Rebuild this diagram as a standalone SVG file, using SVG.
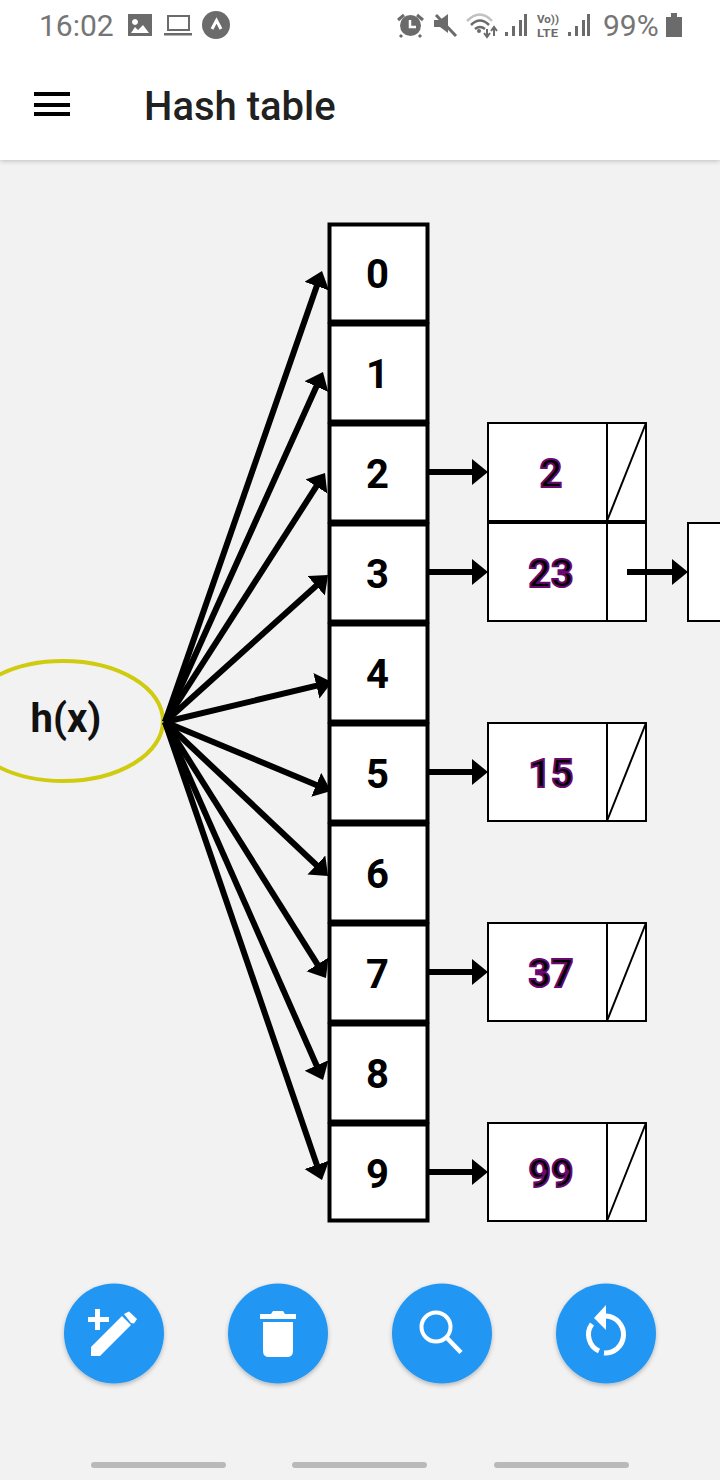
<svg xmlns="http://www.w3.org/2000/svg" width="720" height="1480" viewBox="0 0 720 1480">
<style>
text{font-family:Roboto,"Liberation Sans",sans-serif}
.cell{fill:#fff;stroke:#000;stroke-width:4}
.idx{font-size:40px;font-weight:700;fill:#000;text-anchor:middle}
.box{fill:#fff;stroke:#000;stroke-width:2}
.div{stroke:#000;stroke-width:2}
.val{font-size:39px;font-weight:700;fill:#000;stroke:#6a0a70;stroke-width:2;text-anchor:middle}
.arrow{stroke:#000;stroke-width:6;fill:none;marker-end:url(#ah)}
.sb{fill:#6b6b6b}
.st{font-size:30px;fill:#757575}
.fab{fill:#2196f3;filter:url(#sh)}
.ic{fill:#fff}
.pill{fill:#b9b9b9}
</style>
<defs>
<marker id="ah" markerUnits="userSpaceOnUse" markerWidth="18" markerHeight="28" refX="8" refY="13" orient="auto"><path d="M0,0L16,13L0,26Z" fill="#000"/></marker>
<filter id="sh" x="-20%" y="-20%" width="140%" height="140%"><feDropShadow dx="0" dy="2" stdDeviation="2" flood-color="#000" flood-opacity="0.25"/></filter>
<filter id="bar" x="-5%" y="-5%" width="110%" height="120%"><feDropShadow dx="0" dy="1" stdDeviation="2.5" flood-color="#000" flood-opacity="0.22"/></filter>
</defs>
<rect width="720" height="1480" fill="#f2f2f2"/>
<g id="appbar">
<rect width="720" height="160" fill="#fff" filter="url(#bar)"/>
<rect x="34" y="92" width="36" height="4"/><rect x="34" y="103" width="36" height="4"/><rect x="34" y="112" width="36" height="4"/>
<text x="144" y="120" font-size="40" font-weight="500" fill="#212121">Hash table</text>
</g>
<g id="statusbar">
<text class="st" x="39" y="36">16:02</text>
<path class="sb" fill-rule="evenodd" d="M128,14H152V36H128ZM131,33H149L143,25L138,30L135,27ZM135,19a3,3 0 1,0 .01,0Z"/>
<path class="sb" fill-rule="evenodd" d="M167,15H190V31H167ZM169,17V29H188V17Z"/>
<rect class="sb" x="164" y="33" width="28" height="2.5"/>
<circle class="sb" cx="216" cy="25" r="14"/>
<path d="M212,29L216.500,20.500L221,29" fill="none" stroke="#fff" stroke-width="3"/>
<circle class="sb" cx="410.500" cy="25.500" r="10.500"/>
<path d="M410,20V27H416" stroke="#fff" stroke-width="2.5" fill="none"/>
<path d="M398,20L404,15M423,20L417,15M402,35L400,37M419,35L421,37" stroke="#6b6b6b" stroke-width="3"/>
<path class="sb" d="M434,20H440L448,14V33L440,27H434Z"/>
<path d="M436,15L456,36" stroke="#6b6b6b" stroke-width="3"/>
<path d="M467,21Q480,8 492,21" stroke="#c2c2c2" stroke-width="2.5" fill="none"/>
<path d="M471,25Q480,16 489,25M475,29Q480,25 485,29" stroke="#6b6b6b" stroke-width="2.5" fill="none"/>
<circle class="sb" cx="479" cy="31" r="2"/>
<path d="M487,29V36M484,33L487,37L490,33M494,36V28M491,31L494,27L497,31" stroke="#6b6b6b" stroke-width="2" fill="none"/>
<path class="sb" d="M505,32h3v4h-3ZM512,26h3v10h-3ZM519,20h3v16h-3ZM524,14h3v22h-3Z"/>
<text x="537" y="23" font-size="11" font-weight="700" fill="#6b6b6b" textLength="22" lengthAdjust="spacingAndGlyphs">Vo))</text>
<text x="537" y="36.500" font-size="11" font-weight="700" fill="#6b6b6b" textLength="21" lengthAdjust="spacingAndGlyphs">LTE</text>
<path class="sb" d="M568,32h3v4h-3ZM575,26h3v10h-3ZM582,20h3v16h-3ZM587,14h3v22h-3Z"/>
<text class="st" x="603" y="36">99%</text>
<path class="sb" d="M666,17H671V13H677V17H682V37H666Z"/>
</g>
<g id="hash-fn">
<ellipse cx="63" cy="721" rx="100" ry="60" fill="none" stroke="#cfcb0e" stroke-width="4"/>
<text x="66" y="732" font-size="40" font-weight="700" fill="#111" text-anchor="middle">h(x)</text>
</g>
<g id="connectors">
<line class="arrow" x1="165" y1="722" x2="319.400" y2="278.600"/>
<line class="arrow" x1="165" y1="722" x2="319.700" y2="379.300"/>
<line class="arrow" x1="165" y1="722" x2="320.700" y2="479.700"/>
<line class="arrow" x1="165" y1="722" x2="322.100" y2="580.400"/>
<line class="arrow" x1="165" y1="722" x2="324.200" y2="683.900"/>
<line class="arrow" x1="165" y1="722" x2="323.600" y2="787.900"/>
<line class="arrow" x1="165" y1="722" x2="322.200" y2="870.500"/>
<line class="arrow" x1="165" y1="722" x2="321.700" y2="971.200"/>
<line class="arrow" x1="165" y1="722" x2="319.800" y2="1072.700"/>
<line class="arrow" x1="165" y1="722" x2="319.400" y2="1172.400"/>
<line class="arrow" x1="428" y1="472" x2="480" y2="472"/>
<line class="arrow" x1="428" y1="572" x2="480" y2="572"/>
<line class="arrow" x1="428" y1="772" x2="480" y2="772"/>
<line class="arrow" x1="428" y1="972" x2="480" y2="972"/>
<line class="arrow" x1="428" y1="1172" x2="480" y2="1172"/>
</g>
<g id="cell-0"><rect class="cell" x="329.500" y="224.500" width="98" height="97"/><text class="idx" x="377.500" y="288">0</text></g>
<g id="cell-1"><rect class="cell" x="329.500" y="324.500" width="98" height="97"/><text class="idx" x="377.500" y="388">1</text></g>
<g id="cell-2"><rect class="cell" x="329.500" y="424.500" width="98" height="97"/><text class="idx" x="377.500" y="488">2</text></g>
<g id="cell-3"><rect class="cell" x="329.500" y="524.500" width="98" height="97"/><text class="idx" x="377.500" y="588">3</text></g>
<g id="cell-4"><rect class="cell" x="329.500" y="624.500" width="98" height="97"/><text class="idx" x="377.500" y="688">4</text></g>
<g id="cell-5"><rect class="cell" x="329.500" y="724.500" width="98" height="97"/><text class="idx" x="377.500" y="788">5</text></g>
<g id="cell-6"><rect class="cell" x="329.500" y="824.500" width="98" height="97"/><text class="idx" x="377.500" y="888">6</text></g>
<g id="cell-7"><rect class="cell" x="329.500" y="924.500" width="98" height="97"/><text class="idx" x="377.500" y="988">7</text></g>
<g id="cell-8"><rect class="cell" x="329.500" y="1024.500" width="98" height="97"/><text class="idx" x="377.500" y="1088">8</text></g>
<g id="cell-9"><rect class="cell" x="329.500" y="1124.500" width="98" height="96"/><text class="idx" x="377.500" y="1188">9</text></g>
<g id="node-2"><rect class="box" x="488" y="423" width="158" height="98"/><line class="div" x1="607" y1="423" x2="607" y2="521"/><line class="div" x1="607" y1="521" x2="646" y2="423"/><text class="val" x="551" y="487">2</text></g>
<g id="node-23"><rect class="box" x="488" y="523" width="158" height="98"/><line class="div" x1="607" y1="523" x2="607" y2="621"/><line x1="488" y1="522" x2="646" y2="522" stroke="#000" stroke-width="4"/><text class="val" x="551" y="587">23</text></g>
<g id="node-next"><rect class="box" x="688" y="523" width="40" height="98"/></g>
<line class="arrow" x1="627" y1="572" x2="680" y2="572"/>
<g id="node-15"><rect class="box" x="488" y="723" width="158" height="98"/><line class="div" x1="607" y1="723" x2="607" y2="821"/><line class="div" x1="607" y1="821" x2="646" y2="723"/><text class="val" x="551" y="787">15</text></g>
<g id="node-37"><rect class="box" x="488" y="923" width="158" height="98"/><line class="div" x1="607" y1="923" x2="607" y2="1021"/><line class="div" x1="607" y1="1021" x2="646" y2="923"/><text class="val" x="551" y="987">37</text></g>
<g id="node-99"><rect class="box" x="488" y="1123" width="158" height="98"/><line class="div" x1="607" y1="1123" x2="607" y2="1221"/><line class="div" x1="607" y1="1221" x2="646" y2="1123"/><text class="val" x="551" y="1187">99</text></g>
<g id="btn-add"><circle class="fab" cx="114" cy="1333.500" r="50"/>
<path class="ic" d="M95,1309h5v8h9v5h-9v8h-5v-8h-7v-5h7ZM91,1347L122,1316L131,1325L100,1356H91Z"/>
<path class="ic" d="M124,1314L129,1311.500L137,1319L134,1323.500L131,1323Z"/></g>
<g id="btn-delete"><circle class="fab" cx="278" cy="1333.500" r="50"/>
<path class="ic" d="M260,1314H271L273,1311H283L285,1314H296V1319H260ZM263,1322H293V1351Q293,1357 287,1357H269Q263,1357 263,1351Z"/></g>
<g id="btn-search"><circle class="fab" cx="442" cy="1333.500" r="50"/>
<circle cx="436" cy="1327" r="14.500" fill="none" stroke="#fff" stroke-width="4"/>
<line x1="447" y1="1338" x2="461" y2="1352.500" stroke="#fff" stroke-width="4.500"/></g>
<g id="btn-reset"><circle class="fab" cx="606" cy="1333.500" r="50"/>
<path d="M606,1316A18,18 0 1,1 604,1353" fill="none" stroke="#fff" stroke-width="5"/>
<path d="M592,1324A18,18 0 0,0 599,1351" fill="none" stroke="#fff" stroke-width="5"/>
<path class="ic" d="M606,1305V1330L594,1318Z"/></g>
<g id="nav-indicators">
<rect class="pill" x="91" y="1462" width="135" height="6" rx="3"/>
<rect class="pill" x="292" y="1462" width="135" height="6" rx="3"/>
<rect class="pill" x="494" y="1462" width="135" height="6" rx="3"/>
</g>
</svg>
